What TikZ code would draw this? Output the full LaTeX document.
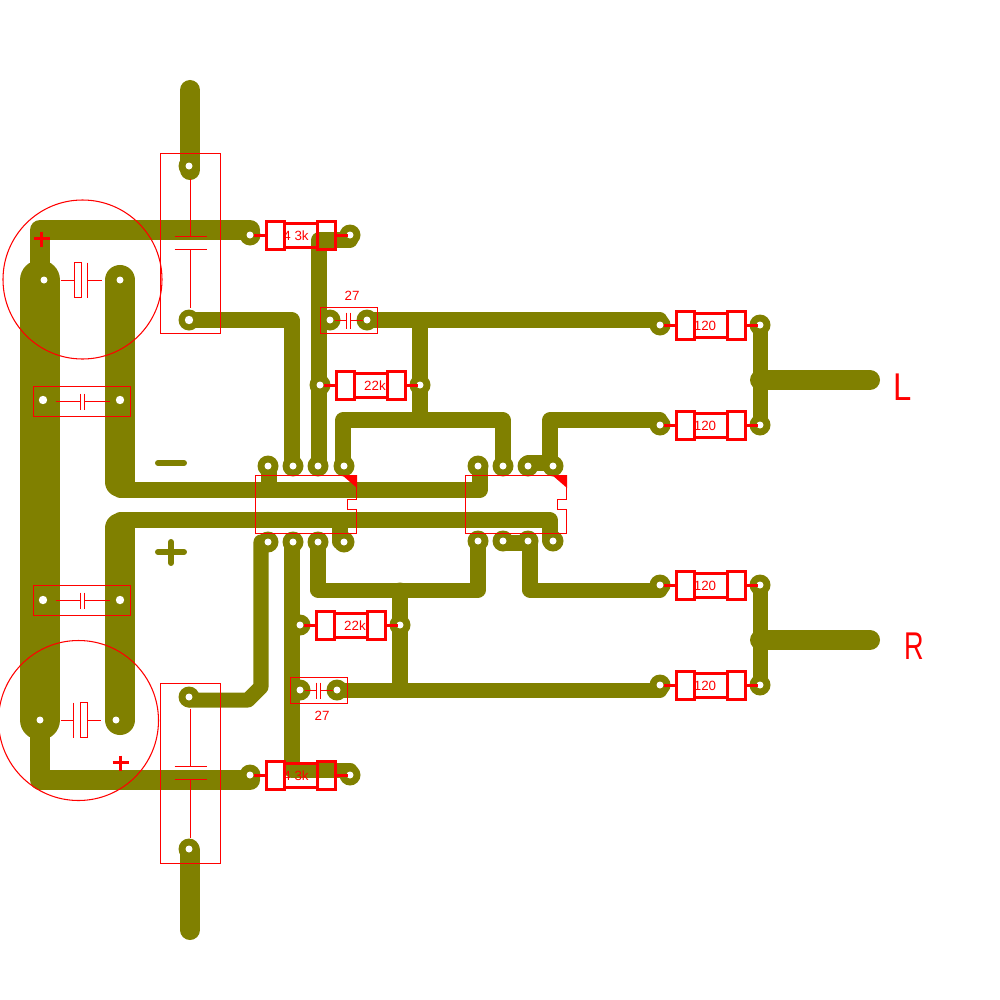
\documentclass[tikz,border=0pt]{standalone}
\usepackage{fontspec}
\setmainfont{Liberation Sans}
\definecolor{copper}{HTML}{808000}
\tikzset{
    trace-thin/.style = {draw=copper, line width=4.27pt, line cap=round, line join=round},
    trace-mid/.style = {draw=copper, line width=5.69pt, line cap=round, line join=round},
    trace-wide/.style = {draw=copper, line width=8.54pt, line cap=round},
    trace-bus/.style = {draw=copper, line width=11.38pt, line cap=round},
    silk-thin/.style = {draw=red, line width=0.3pt, shift={(0.5,0.5)}},
    silk-thick/.style = {draw=red, line width=0.7pt, shift={(0.5,0.5)}},
    value-label/.style = {text=red, inner sep=0pt, font=\fontsize{3.8}{4}\selectfont},
    channel-label/.style = {text=red, inner sep=0pt, font=\fontsize{11}{12}\selectfont},
}
% one resistor between two pads 100 apart: name, left pad, text offset, value
\newcommand{\resistor}[4]{
    \begin{scope}[shift={(#2)}]
    \draw[silk-thick] (3,0) -- (16,0) (85,0) -- (97,0);
    \draw[silk-thick] (16,-14) rectangle (34,14);
    \draw[silk-thick] (34,-12) rectangle (67,12);
    \draw[silk-thick] (67,-14) rectangle (85,14);
    \node[value-label] (#1) at (#3,1) {#4};
    \end{scope}
}
% small film capacitor lying flat: centre of the plates, half length of the leads
\newcommand{\smallcap}[3]{
    \begin{scope}[shift={(#1)}]
    \draw[silk-thin] (-#2,0) -- (-1.6,0) (1.6,0) -- (#3,0);
    \draw[silk-thin] (-1.6,-8) -- (-1.6,8) (1.6,-8) -- (1.6,8);
    \end{scope}
}
% large upright capacitor: centre between plates
\newcommand{\uprightcap}[1]{
    \begin{scope}[shift={(#1)}]
    \draw[silk-thin] (-30,-90) rectangle (30,90);
    \draw[silk-thin] (0,-65) -- (0,-7) (-16,-7) -- (16,-7);
    \draw[silk-thin] (-16,6) -- (16,6) (0,6) -- (0,64);
    \end{scope}
}
% dual inline chip outline: top left corner
\newcommand{\chip}[1]{
    \begin{scope}[shift={(#1)}]
    \draw[silk-thin] (0,0) -- (101,0) -- (101,24) -- (92,24) -- (92,34) -- (101,34) -- (101,58) -- (0,58) -- cycle;
    \fill[red] (87,0) -- (102,0) -- (102,13) -- cycle;
    \end{scope}
}

\begin{document}
\begin{tikzpicture}[x=0.01cm, y=-0.01cm]
\useasboundingbox (0,0) rectangle (1000,1000);

% pads
\foreach \name/\x/\y in {
    capt/189/166, capb/189/320, capc/189/697, capd/189/849,
    big-a/44/280, big-b/120/280, big-c/40/720, big-d/116/720,
    film-a/43/400, film-b/120/400, film-c/43/600, film-d/120/600,
    ra/250/235, rb/350/235, rc/250/775, rd/350/775,
    rf-a/320/385, rf-b/420/385, rf-c/300/625, rf-d/400/625,
    ca/330/320, cb/367/320, cc/300/690, cd/337/690,
    u-a/268/466, u-b/293/466, u-c/318/466, u-d/344/466,
    u-e/268/542, u-f/293/542, u-g/318/542, u-h/344/542,
    v-a/478/466, v-b/503/466, v-c/528/466, v-d/553/466,
    v-e/478/541, v-f/503/541, v-g/528/541, v-h/553/541,
    out-a/660/325, out-b/760/325, out-c/660/425, out-d/760/425,
    out-e/660/585, out-f/760/585, out-g/660/685, out-h/760/685}
{
    \coordinate (\name) at (\x,\y);
    \fill[copper] (\name) circle (10.5);
}

% power rails
\draw[trace-bus] (40,280) -- (40,720);
\draw[trace-wide] (120,280) -- (120,482);
\draw[trace-wide] (120,720) -- (120,528);
\draw[trace-mid] (190,90) -- (190,170);
\draw[trace-mid] (190,850) -- (190,930);
\draw[trace-mid] (40,280) -- (40,230) -- (250,230);
\draw[trace-mid] (40,720) -- (40,780) -- (250,780);
\draw[trace-thin] (120,490) -| (480,466);
\draw[trace-thin] (120,520) -| (550,541);

% first chip, top row
\draw[trace-thin] (269,466) -- (269,490);
\draw[trace-thin] (capb) -- (292,320) -- (292,466);
\draw[trace-thin] (rb) -- (350,240) -- (319,240) -- (319,466);
\draw[trace-thin] (343,466) |- (503,420) -- (503,466);
\draw[trace-thin] (420,320) -- (420,420);
\draw[trace-thin] (cb) -- (660,320);
% second chip, top row
\draw[trace-thin] (v-c) -- (528,463) -- (553,463);
\draw[trace-thin] (550,466) |- (660,420);

% first chip, bottom row
\draw[trace-thin] (268,542) -- (261,542) -- (261,687) -- (248,700) -- (189,700);
\draw[trace-thin] (292,542) -- (292,770) -- (350,770);
\draw[trace-thin] (318,542) |- (478,590) -- (478,541);
\draw[trace-thin] (400,590) -- (400,690);
\draw[trace-thin] (340,520) -- (340,542);
\draw[trace-thin] (cd) -- (337,690) -- (660,690);
% second chip, bottom row
\draw[trace-thin] (v-f) -- (503,543) -- (530,543);
\draw[trace-thin] (530,541) |- (660,590);

% outputs
\draw[trace-thin] (out-b) -- (out-d);
\draw[trace-thin] (out-f) -- (out-h);
\draw[trace-mid] (760,380) -- (870,380);
\draw[trace-mid] (760,640) -- (870,640);

% supply marks
\draw[trace-thin, line width=1.7pt] (158,463) -- (184,463);
\draw[trace-thin, line width=1.7pt] (158,552) -- (184,552) (171,542) -- (171,563);

% drill holes
\foreach \name in {capt, capc, capd, big-a, big-b, big-c, big-d,
    ra, rb, rc, rd, rf-a, rf-b, rf-c, rf-d, ca, cb, cc, cd,
    u-a, u-b, u-c, u-d, u-e, u-f, u-g, u-h,
    v-a, v-b, v-c, v-d, v-e, v-f, v-g, v-h,
    out-a, out-b, out-c, out-d, out-e, out-f, out-g, out-h}
{
    \fill[white] (\name) circle (3.5);
}
\foreach \name in {capb, film-a, film-b, film-c, film-d}
{
    \fill[white] (\name) circle (4.2);
}

% resistors
\resistor{val-a}{ra}{46}{4 3k}
\resistor{val-b}{rc}{46}{4 3k}
\resistor{val-c}{rf-a}{55}{22k}
\resistor{val-d}{rf-c}{55}{22k}
\resistor{val-e}{out-a}{45}{120}
\resistor{val-f}{out-c}{45}{120}
\resistor{val-g}{out-e}{45}{120}
\resistor{val-h}{out-g}{45}{120}

% capacitors
\uprightcap{190,243}
\uprightcap{190,773}
\chip{255,475}
\chip{465,475}

\draw[silk-thin] (320,307) rectangle (377,333);
\draw[silk-thin] (290,677) rectangle (347,703);
\smallcap{348,320}{14}{14}
\smallcap{318,690}{14}{14}
\node[value-label] (val-i) at (352,296) {27};
\node[value-label] (val-j) at (322,716) {27};

\draw[silk-thin] (33,386) rectangle (130,416);
\draw[silk-thin] (33,585) rectangle (130,615);
\smallcap{82,401}{27}{27}
\smallcap{82,600}{27}{27}

% electrolytics
\draw[silk-thin] (82,279) circle (79.5);
\draw[silk-thin] (78,720) circle (80);
\draw[silk-thin] (60,280) -- (74,280) (87,280) -- (101,280) (87,262) -- (87,297);
\draw[silk-thin] (74,262) rectangle (81,297);
\draw[silk-thin] (60,720) -- (73,720) (87,720) -- (100,720) (73,702) -- (73,737);
\draw[silk-thin] (80,702) rectangle (87,737);
\draw[silk-thick] (33,238) -- (49,238) (41,231) -- (41,246);
\draw[silk-thick] (112,762) -- (128,762) (120,755) -- (120,770);

\node[channel-label, xscale=0.85] (lbl-l) at (903,387) {L};
\node[channel-label, xscale=0.7] (lbl-r) at (914,646) {R};
\end{tikzpicture}
\end{document}
